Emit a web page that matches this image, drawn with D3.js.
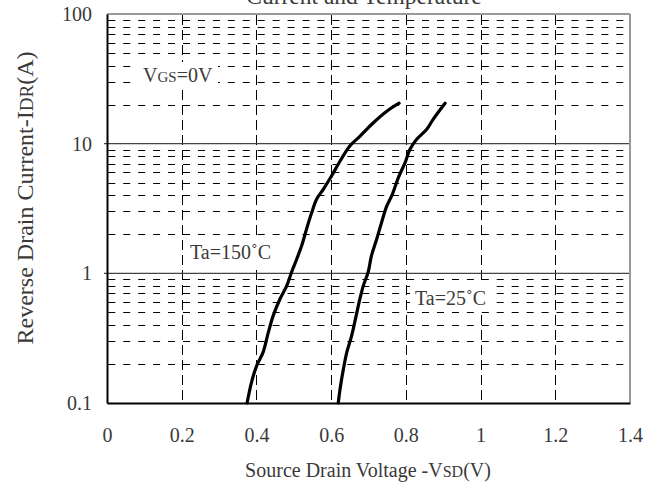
<!DOCTYPE html>
<html>
<head>
<meta charset="utf-8">
<script src="https://cdn.jsdelivr.net/npm/d3@7"></script>
<style>
  body { margin: 0; background: #fff; }
  svg { display: block; font-family: "Liberation Serif", "DejaVu Serif", serif; }
</style>
</head>
<body>
<div id="chart"></div>
<script>
// tick values
const vTicks = [0, 0.2, 0.4, 0.6, 0.8, 1, 1.2, 1.4]
const iTicks = [0.1, 1, 10, 100]

// Ta = 150C curve
const v150 = [0.375, 0.387, 0.401, 0.418, 0.432, 0.445, 0.463, 0.481, 0.494, 0.508, 0.521, 0.534, 0.548, 0.561, 0.579, 0.601, 0.624, 0.650, 0.677, 0.713, 0.749, 0.782]
const i150 = [0.1, 0.145, 0.195, 0.247, 0.352, 0.472, 0.634, 0.80, 1.02, 1.29, 1.63, 2.19, 2.94, 3.73, 4.45, 5.63, 7.35, 9.6, 11.4, 14.5, 17.8, 20.5]

// Ta = 25C curve
const v25 = [0.619, 0.624, 0.633, 0.642, 0.655, 0.667, 0.677, 0.686, 0.699, 0.708, 0.722, 0.735, 0.749, 0.762, 0.780, 0.798, 0.811, 0.829, 0.856, 0.873, 0.905]
const i25 = [0.1, 0.129, 0.184, 0.247, 0.331, 0.472, 0.634, 0.80, 1.02, 1.37, 1.84, 2.47, 3.31, 3.95, 5.48, 7.14, 9.04, 10.8, 12.9, 15.4, 20.5]

const width = 658
const height = 486
const pLeft = 107, pRight = 630, pTop = 14, pBottom = 403
const textColor = '#3a3a3a'

const svg = d3.select('#chart')
  .append('svg')
  .attr('width', width)
  .attr('height', height)

const xScale = d3.scaleLinear().domain([0, 1.4]).range([pLeft, pRight])
const yScale = d3.scaleLog().domain([0.1, 100]).range([pBottom, pTop])

// minor (dashed) horizontal grid
const minor = yScale.ticks().filter(d => !iTicks.some(t => Math.abs(t - d) < 1e-9))
svg.append('g')
  .selectAll('line')
  .data(minor)
  .enter()
  .append('line')
  .attr('x1', pLeft + 1.3)
  .attr('x2', pRight - 2)
  .attr('y1', d => Math.round(yScale(d)) + 0.5)
  .attr('y2', d => Math.round(yScale(d)) + 0.5)
  .attr('stroke', '#000')
  .attr('stroke-width', 1)
  .attr('stroke-dasharray', '7,7.94')

// vertical dashed grid
svg.append('g')
  .selectAll('line')
  .data(vTicks.slice(1, -1))
  .enter()
  .append('line')
  .attr('x1', d => Math.round(xScale(d)) + 0.5)
  .attr('x2', d => Math.round(xScale(d)) + 0.5)
  .attr('y1', pTop + 1)
  .attr('y2', pBottom)
  .attr('stroke', '#000')
  .attr('stroke-width', 1)
  .attr('stroke-dasharray', '10,5')

// decade lines (stick out a little past the left axis)
svg.append('g')
  .selectAll('line')
  .data(iTicks.slice(1, -1))
  .enter()
  .append('line')
  .attr('x1', pLeft - 3)
  .attr('x2', pRight)
  .attr('y1', d => yScale(d))
  .attr('y2', d => yScale(d))
  .attr('stroke', '#444')
  .attr('stroke-width', 1.3)

// frame: top/right gray, left/bottom black
svg.append('line').attr('x1', pLeft).attr('x2', pRight).attr('y1', pTop).attr('y2', pTop)
  .attr('stroke', '#999').attr('stroke-width', 2)
svg.append('line').attr('x1', pRight).attr('x2', pRight).attr('y1', pTop).attr('y2', pBottom)
  .attr('stroke', '#999').attr('stroke-width', 2)

// axes
const xAxis = d3.axisBottom(xScale)
  .tickValues(vTicks)
  .tickFormat(d => String(d))
  .tickSize(0)
  .tickPadding(25)
const gx = svg.append('g')
  .attr('transform', 'translate(0,' + pBottom + ')')
  .call(xAxis)

const yAxis = d3.axisLeft(yScale)
  .tickValues(iTicks)
  .tickFormat(d => String(d))
  .tickSize(0)
  .tickPadding(15)
const gy = svg.append('g')
  .attr('transform', 'translate(' + pLeft + ',0)')
  .call(yAxis)

;[gx, gy].forEach(g => {
  g.select('.domain').attr('stroke', '#000').attr('stroke-width', 2)
  g.selectAll('text')
    .attr('font-family', '"Liberation Serif", serif')
    .attr('font-size', 20)
    .attr('fill', textColor)
})

// curves
const line = d3.line()
  .x(d => xScale(d[0]))
  .y(d => yScale(d[1]))
  .curve(d3.curveCatmullRom)

svg.append('path')
  .datum(v150.map((v, i) => [v, i150[i]]))
  .attr('d', line)
  .attr('fill', 'none')
  .attr('stroke', '#000')
  .attr('stroke-width', 3.2)
  .attr('stroke-linecap', 'round')

svg.append('path')
  .datum(v25.map((v, i) => [v, i25[i]]))
  .attr('d', line)
  .attr('fill', 'none')
  .attr('stroke', '#000')
  .attr('stroke-width', 3.2)
  .attr('stroke-linecap', 'round')

// labels with white boxes
const addLabel = (x, y, parts) => {
  const g = svg.append('g')
  const t = g.append('text')
    .attr('x', x)
    .attr('y', y)
    .attr('font-size', 20)
    .attr('fill', textColor)
  parts.forEach(p => {
    t.append('tspan').attr('font-size', p[1]).text(p[0])
  })
  const b = t.node().getBBox()
  g.insert('rect', 'text')
    .attr('x', b.x - 5)
    .attr('y', b.y - 2)
    .attr('width', b.width + 10)
    .attr('height', b.height + 4)
    .attr('fill', '#fff')
}

addLabel(143, 82, [['V', 20], ['GS', 15], ['=0V', 20]])
addLabel(190, 259, [['Ta=150', 20], ['˚', 20], ['C', 20]])
addLabel(415, 305, [['Ta=25', 20], ['˚', 20], ['C', 20]])

// title (only the last line is visible)
svg.append('text')
  .attr('x', 364)
  .attr('y', 4)
  .attr('text-anchor', 'middle')
  .attr('font-size', 23.5)
  .attr('fill', textColor)
  .text('Current and Temperature')

// x title
const xt = svg.append('text')
  .attr('x', 368)
  .attr('y', 477)
  .attr('text-anchor', 'middle')
  .attr('font-size', 20)
  .attr('fill', textColor)
xt.append('tspan').text('Source Drain Voltage -V')
xt.append('tspan').attr('font-size', 16).text('SD')
xt.append('tspan').text('(V)')

// y title
const yt = svg.append('text')
  .attr('transform', 'translate(33,198) rotate(-90)')
  .attr('text-anchor', 'middle')
  .attr('font-size', 24)
  .attr('fill', textColor)
yt.append('tspan').text('Reverse Drain Current-I')
yt.append('tspan').attr('font-size', 19).text('DR')
yt.append('tspan').text('(A)')
</script>
</body>
</html>
